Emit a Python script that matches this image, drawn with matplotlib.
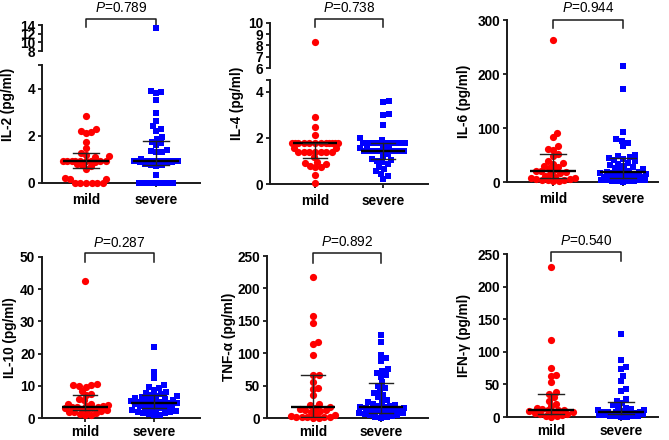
import numpy as np
import matplotlib
matplotlib.use("Agg")
import matplotlib.pyplot as plt
from matplotlib.transforms import blended_transform_factory

plt.rcParams['font.family'] = ['Liberation Sans', 'DejaVu Sans']
plt.rcParams['mathtext.fontset'] = 'custom'
plt.rcParams['mathtext.it'] = 'Liberation Sans:italic'
plt.rcParams['mathtext.rm'] = 'Liberation Sans'

# ---------------- data ----------------
groups = ["mild", "severe"]

il2_mild = [2.82, 2.27, 2.2, 2.15, 2.1, 1.72, 1.48, 1.25, 1.2, 1.15, 1.12] + [0.95]*9 + \
           [0.88, 0.82, 0.78, 0.72, 0.6, 0.2, 0.18, 0.15, 0, 0, 0, 0, 0, 0]
il2_severe = [13.2, 3.9, 3.85, 3.8, 3.5, 2.97, 2.63, 2.4, 2.3, 2.2, 1.95, 1.85, 1.75, 1.7,
              1.6, 1.4, 1.35, 1.3, 1.3, 1.02] + [0.95]*12 + \
             [0.9, 0.88, 0.85, 0.8, 0.78, 0.75, 0.72, 0.34] + [0]*7
il2_stats = {"mild": (0.95, 0.65, 1.27), "severe": (0.95, 0.75, 1.78)}

il4_mild = [8.3, 2.93, 2.46, 2.12] + [1.77]*12 + [1.58, 1.55] + [1.4]*7 + \
           [1.16, 0.95, 0.9, 0.85, 0.8, 0.75, 0.72, 0.39, 0.05]
il4_severe = [3.62, 3.58, 3.05, 3.02, 2.56, 1.98, 1.9] + [1.78]*9 + [1.7, 1.6, 1.55, 1.5] + \
             [1.42]*8 + [1.3, 1.2, 1.1, 1.05, 1.0, 0.95, 0.85, 0.75, 0.65, 0.55, 0.45, 0.35, 0.22]
il4_stats = {"mild": (1.77, 1.15, 1.77), "severe": (1.42, 1.07, 1.78)}

il6_mild = [263, 91, 83, 66, 62, 60, 52, 48, 38, 35, 33, 30, 28, 25, 22, 20, 20, 18, 16, 14,
            12, 10, 8, 7, 6, 5, 4, 3, 3, 2, 1]
il6_severe = [214, 172, 92, 80, 76, 72, 66, 50, 48, 46, 44, 42, 40, 38, 36, 34, 32, 30, 28, 26,
              24, 22, 20, 19, 18, 18, 17, 16, 15, 14, 13, 12, 11, 10, 9, 8, 7, 6, 6, 5, 5, 4, 4,
              3, 3, 2, 2, 1, 1, 0.5]
il6_stats = {"mild": (20, 7, 51), "severe": (18, 7, 45)}

il10_mild = [42.5, 10.5, 10.4, 10.2, 10.0, 9.5, 8.5, 7.5, 7.2, 6.0, 5.5, 4.5, 4.2, 4.0, 3.8,
             3.6, 3.4, 3.4, 3.3, 3.2, 3.0, 2.8, 2.6, 2.4, 2.2, 2.0, 1.8, 1.5, 1.2, 1.0, 0.8]
il10_severe = [22, 14.2, 12.3, 10.3, 9.6, 9.2, 8.7, 8.2, 7.8, 7.5, 7.2, 6.9, 6.7, 6.5, 6.3,
               6.0, 5.8, 5.6, 5.4, 5.2, 5.0, 4.9, 4.8, 4.8, 4.7, 4.6, 4.4, 4.2, 4.0, 3.8, 3.6,
               3.4, 3.2, 3.0, 2.8, 2.6, 2.4, 2.2, 2.0, 1.8, 1.6, 1.4, 1.2, 1.0, 0.8]
il10_stats = {"mild": (3.4, 2.5, 7.1), "severe": (4.8, 3.0, 7.0)}

tnf_mild = [217, 157, 146, 118, 114, 97, 67, 66, 56, 47, 45, 35, 22, 20, 17, 16, 14, 13, 12,
            11, 10, 6, 4, 3, 2, 2, 1, 1, 1, 0.5, 0]
tnf_severe = [128, 118, 97, 93, 88, 75, 73, 70, 66, 64, 55, 50, 46, 42, 38, 35, 32, 28, 26, 24,
              22, 20, 19, 18, 17, 17, 16, 15, 14, 13, 12, 11, 10, 9, 8, 7, 6, 5, 4, 3, 2, 1, 0.5]
tnf_stats = {"mild": (17, 2, 66), "severe": (17, 7, 54)}

ifn_mild = [230, 118, 75, 65, 63, 53, 38, 35, 30, 25, 20, 17, 14, 12, 11, 11, 10, 9, 8, 7, 6,
            5, 4, 3, 2, 1, 0]
ifn_severe = [127, 88, 76, 73, 63, 55, 43, 40, 28, 25, 22, 19, 16, 14, 12, 11, 10, 9, 8, 8, 7,
              7, 6, 6, 5, 5, 4, 4, 3, 3, 2, 2, 1, 1, 0.5, 0]
ifn_stats = {"mild": (11, 4, 36), "severe": (8, 4, 23)}

ylabels = ["IL-2 (pg/ml)", "IL-4 (pg/ml)", "IL-6 (pg/ml)",
           "IL-10 (pg/ml)", "TNF-α (pg/ml)", "IFN-γ (pg/ml)"]
pvalues = ["0.789", "0.738", "0.944", "0.287", "0.892", "0.540"]

RED = "#ff0000"
BLUE = "#0000ff"
FS = 9.8
W, H = 669, 440
fig = plt.figure(figsize=(W/100, H/100), dpi=100)


def fx(px):
    return px / W


def fy(py):
    return 1 - py / H


def make_ax(x0, x1, ytop, ybot, mild_px, sev_px, ylim, xpad=4.5):
    ax = fig.add_axes([fx(x0), fy(ybot), fx(x1 - x0), (ybot - ytop) / H])
    s = sev_px - mild_px
    ax.set_xlim((x0 - mild_px) / s, 1 + (x1 - sev_px) / s)
    ax.set_ylim(*ylim)
    for sp in ["top", "right"]:
        ax.spines[sp].set_visible(False)
    for sp in ["left", "bottom"]:
        ax.spines[sp].set_linewidth(1.4)
        ax.spines[sp].set_color("#1a1a1a")
    ax.tick_params(axis="both", direction="out", length=3, width=1.3, color="#1a1a1a",
                   labelsize=FS, pad=2)
    ax.tick_params(axis="x", pad=xpad)
    ax.patch.set_alpha(0)
    return ax


def swarm_offsets(ax, vals, center, d=5.6, cap=23.0):
    pts = np.array([ax.transData.transform((center, v)) for v in vals])
    ys = pts[:, 1]
    order = np.argsort(ys, kind="stable")
    placed_x, placed_y = [], []
    xs = np.zeros(len(vals))
    grid = np.arange(-cap, cap + 0.01, 0.5)
    for i in order:
        y = ys[i]
        intervals = []
        near = []
        for px_, py_ in zip(placed_x, placed_y):
            dy = abs(py_ - y)
            if dy < d:
                dx = np.sqrt(d*d - dy*dy)
                intervals.append((px_ - dx, px_ + dx))
                near.append((px_, py_))
        cands = [0.0]
        for a, b in intervals:
            cands += [a, b]
        cands = sorted(cands, key=lambda c: (abs(c), -c))
        chosen = None
        for c in cands:
            if abs(c) > cap:
                break
            if all(not (a + 1e-6 < c < b - 1e-6) for a, b in intervals):
                chosen = c
                break
        if chosen is None:
            best, bestd = 0.0, -1
            for g in sorted(grid, key=lambda c: (abs(c), -c)):
                md = min(np.hypot(g - px_, y - py_) for px_, py_ in near)
                if md > bestd + 1e-6:
                    best, bestd = g, md
            chosen = best
        xs[i] = chosen
        placed_x.append(chosen)
        placed_y.append(y)
    cx = ax.transData.transform((center, 0))[0]
    inv = ax.transData.inverted()
    return np.array([inv.transform((cx + xs[i], ys[i]))[0] for i in range(len(vals))])


def draw_points(ax, vals, center, color, marker):
    vals = list(vals)
    if not vals:
        return
    xs = swarm_offsets(ax, vals, center)
    ms = 27 if marker == "o" else 22
    ax.scatter(xs, vals, s=ms, c=color, marker=marker, linewidths=0, zorder=3, clip_on=False)


def draw_stats(ax, center, stats):
    med, q1, q3 = stats
    ax.plot([center - 0.33, center + 0.33], [med, med], color="black", lw=1.7, zorder=4,
            solid_capstyle="butt")
    ax.plot([center, center], [q1, q3], color="#222222", lw=1.0, zorder=4)
    for q in (q1, q3):
        ax.plot([center - 0.18, center + 0.18], [q, q], color="#222222", lw=1.0, zorder=4)


def bracket(ax, ytop_px, ydown_px, ytext_px, p):
    tr = blended_transform_factory(ax.transData, fig.transFigure)
    ax.plot([0, 0, 1, 1], [fy(ydown_px), fy(ytop_px), fy(ytop_px), fy(ydown_px)],
            transform=tr, color="#1a1a1a", lw=1.1, clip_on=False)
    ax.text(0.5, fy(ytext_px), r"$\mathit{P}$=" + p, transform=tr, ha="center",
            va="baseline", fontsize=FS)


def ylabel(xpx, ypx, text):
    fig.text(fx(xpx), fy(ypx), text, rotation=90, ha="center", va="center",
             fontsize=FS, fontweight="bold")


def simple_panel(x0, x1, ytop, ybot, mild_px, sev_px, ylim, yticks, mild, severe, stats,
                 lab, labx, p, br, xpad=4.5):
    ax = make_ax(x0, x1, ytop, ybot, mild_px, sev_px, ylim, xpad)
    ax.set_yticks(yticks)
    ax.set_yticklabels([str(t) for t in yticks], fontweight="bold")
    ax.set_xticks([0, 1])
    ax.set_xticklabels(groups, fontweight="bold")
    draw_points(ax, mild, 0, RED, "o")
    draw_points(ax, severe, 1, BLUE, "s")
    draw_stats(ax, 0, stats["mild"])
    draw_stats(ax, 1, stats["severe"])
    ylabel(labx, (ytop + ybot) / 2, lab)
    bracket(ax, *br, p)
    return ax


def broken_panel(x0, x1, lo, hi, mild_px, sev_px, ylim_lo, ylim_hi, ticks_lo, ticks_hi,
                 mild, severe, stats, lab, labx, p, br):
    axl = make_ax(x0, x1, lo[0], lo[1], mild_px, sev_px, ylim_lo)
    axh = make_ax(x0, x1, hi[0], hi[1], mild_px, sev_px, ylim_hi)
    axl.set_yticks(ticks_lo)
    axl.set_yticklabels([str(t) if t in (0, 2, 4) else "" for t in ticks_lo], fontweight="bold")
    axl.set_xticks([0, 1])
    axl.set_xticklabels(groups, fontweight="bold")
    axh.set_yticks(ticks_hi)
    axh.set_yticklabels([str(t) for t in ticks_hi], fontweight="bold")
    axh.spines["bottom"].set_visible(False)
    axh.set_xticks([])
    for ax, (a, b) in ((axl, ylim_lo), (axh, ylim_hi)):
        m = [v for v in mild if a <= v <= b]
        s = [v for v in severe if a <= v <= b]
        draw_points(ax, m, 0, RED, "o")
        draw_points(ax, s, 1, BLUE, "s")
    draw_stats(axl, 0, stats["mild"])
    draw_stats(axl, 1, stats["severe"])
    ylabel(labx, (hi[0] + lo[1]) / 2, lab)
    bracket(axh, *br, p)


# IL-2 (broken axis)
broken_panel(42, 200, (65, 183), (25, 51), 86, 156, (0, 5), (8, 14), [0, 2, 4, 5],
             [8, 10, 12, 14], il2_mild, il2_severe, il2_stats, ylabels[0], 8, pvalues[0],
             (19, 27, 12.5))
# IL-4 (broken axis)
broken_panel(270, 428, (80, 184), (23, 68), 315, 383, (0, 4.52), (6, 10), [0, 2, 4, 4.52],
             [6, 7, 8, 9, 10], il4_mild, il4_severe, il4_stats, ylabels[1], 237, pvalues[1],
             (19, 27, 12.5))
# IL-6
simple_panel(507, 658, 20, 182, 553, 623, (0, 300), [0, 100, 200, 300], il6_mild, il6_severe,
             il6_stats, ylabels[2], 464, pvalues[2], (20, 28, 12.5))
# IL-10
simple_panel(42, 200, 257, 418, 85, 154, (0, 50), [0, 10, 20, 30, 40, 50], il10_mild,
             il10_severe, il10_stats, ylabels[3], 10, pvalues[3], (253, 262, 247), xpad=2.2)
# TNF-a
simple_panel(267, 428, 256, 418, 313, 381, (0, 250), [0, 50, 100, 150, 200, 250], tnf_mild,
             tnf_severe, tnf_stats, ylabels[4], 229, pvalues[4], (253, 263, 246), xpad=2.2)
# IFN-g
simple_panel(507, 658, 254, 417, 551, 621, (0, 250), [0, 50, 100, 150, 200, 250], ifn_mild,
             ifn_severe, ifn_stats, ylabels[5], 464, pvalues[5], (252, 261, 245), xpad=2.2)

fig.savefig("out.png", dpi=100)
